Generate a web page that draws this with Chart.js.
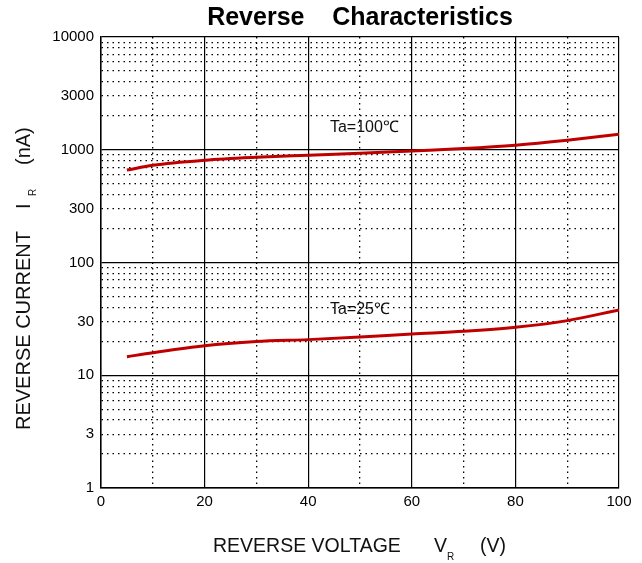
<!DOCTYPE html>
<html>
<head>
<meta charset="utf-8">
<script src="https://cdn.jsdelivr.net/npm/chart.js@4"></script>
<style>
  html, body { margin: 0; padding: 0; background: #fff; }
  #wrap { width: 642px; height: 563px; position: relative; }
</style>
</head>
<body>
<div id="wrap"><canvas id="reverseChart" width="642" height="563"></canvas></div>
<script>
// reverse voltage VR (V)
const voltage = [5, 10, 20, 30, 40, 50, 60, 70, 80, 90, 100];
// reverse current IR (nA)
const current100 = [660, 728, 807, 857, 894, 931, 977, 1025, 1097, 1215, 1373];
const current25 = [14.6, 15.85, 18.3, 19.9, 20.7, 21.8, 23.2, 24.5, 26.6, 30.5, 38.0];

const yLabels = [1, 3, 10, 30, 100, 300, 1000, 3000, 10000];
const xLabels = [0, 20, 40, 60, 80, 100];

const FONT = "'Liberation Sans', Arial, sans-serif";
const RED = "#c00000";

// every 1..9 step of each decade gets a grid line
const yGridValues = [];
for (let d = 1; d <= 1000; d *= 10) {
  for (let k = 1; k < 10; k++) yGridValues.push(k * d);
}
yGridValues.push(10000);

const isDecade = (v) => Math.abs(Math.log10(v) - Math.round(Math.log10(v))) < 1e-9;

const textPlugin = {
  id: "textPlugin",
  afterDraw(chart) {
    const { ctx, chartArea, scales } = chart;
    const cx = (chartArea.left + chartArea.right) / 2;
    ctx.save();
    ctx.fillStyle = "#000";

    // title
    ctx.font = "bold 25px " + FONT;
    ctx.textAlign = "center";
    ctx.textBaseline = "middle";
    ctx.fillText("Reverse    Characteristics", cx, 18);

    // x axis title
    ctx.fillStyle = "#111";
    ctx.font = "19.5px " + FONT;
    ctx.textAlign = "left";
    ctx.textBaseline = "alphabetic";
    const yb = 552;
    ctx.fillText("REVERSE VOLTAGE", 213, yb);
    ctx.fillText("V", 434, yb);
    ctx.font = "10px " + FONT;
    ctx.fillText("R", 447, yb + 8);
    ctx.font = "19.5px " + FONT;
    ctx.fillText("(V)", 480, yb);

    // y axis title (rotated)
    ctx.translate(30, 0);
    ctx.rotate(-Math.PI / 2);
    ctx.font = "20px " + FONT;
    ctx.fillText("REVERSE CURRENT", -430, 0);
    ctx.fillText("I", -209, 0);
    ctx.font = "10px " + FONT;
    ctx.fillText("R", -196, 6);
    ctx.font = "20px " + FONT;
    ctx.fillText("(nA)", -165, 0);
    ctx.restore();

    // curve labels
    ctx.save();
    ctx.font = "16px " + FONT;
    ctx.fillStyle = "#111";
    ctx.textAlign = "left";
    ctx.textBaseline = "middle";
    ctx.fillText("Ta=100\u2103", scales.x.getPixelForValue(44.2), scales.y.getPixelForValue(1585));
    ctx.fillText("Ta=25\u2103", scales.x.getPixelForValue(44.2), scales.y.getPixelForValue(38.2));
    ctx.restore();
  },
};

new Chart(document.getElementById("reverseChart"), {
  type: "line",
  data: {
    datasets: [
      {
        label: "Ta=100",
        data: voltage.map((v, i) => ({ x: v, y: current100[i] })),
        borderColor: RED,
        borderWidth: 3,
        pointRadius: 0,
        cubicInterpolationMode: "monotone",
      },
      {
        label: "Ta=25",
        data: voltage.map((v, i) => ({ x: v, y: current25[i] })),
        borderColor: RED,
        borderWidth: 3,
        pointRadius: 0,
        cubicInterpolationMode: "monotone",
      },
    ],
  },
  options: {
    responsive: false,
    animation: false,
    events: [],
    layout: { padding: { left: 0, right: 23, top: 37, bottom: 0 } },
    plugins: {
      legend: { display: false },
      title: { display: false },
      tooltip: { enabled: false },
    },
    scales: {
      x: {
        type: "linear",
        min: 0,
        max: 100,
        afterFit: (scale) => { scale.height = 75; },
        ticks: {
          stepSize: 10,
          autoSkip: false,
          maxRotation: 0,
          padding: 5,
          color: "#000",
          font: { family: FONT, size: 15 },
          callback: (v) => (xLabels.includes(v) ? String(v) : ""),
        },
        grid: {
          drawTicks: false,
          color: "#000",
          lineWidth: (ctx) => (ctx.tick && ctx.tick.value % 20 === 0 ? 1.2 : 1.3),
        },
        border: {
          color: "#000",
          width: 1.5,
          dash: (ctx) => (ctx.tick && ctx.tick.value % 20 !== 0 ? [1.5, 4] : []),
        },
      },
      y: {
        type: "logarithmic",
        min: 1,
        max: 10000,
        afterFit: (scale) => { scale.width = 101; },
        afterBuildTicks: (scale) => {
          scale.ticks = yGridValues.map((v) => ({ value: v }));
        },
        ticks: {
          autoSkip: false,
          padding: 7,
          color: "#000",
          font: { family: FONT, size: 15 },
          callback: (v) => (yLabels.includes(v) ? String(v) : ""),
        },
        grid: {
          drawTicks: false,
          color: "#000",
          lineWidth: (ctx) => (ctx.tick && isDecade(ctx.tick.value) ? 1.2 : 1.3),
        },
        border: {
          color: "#000",
          width: 1.5,
          dash: (ctx) => (ctx.tick && !isDecade(ctx.tick.value) ? [1.5, 4] : []),
        },
      },
    },
  },
  plugins: [textPlugin],
});
</script>
</body>
</html>
